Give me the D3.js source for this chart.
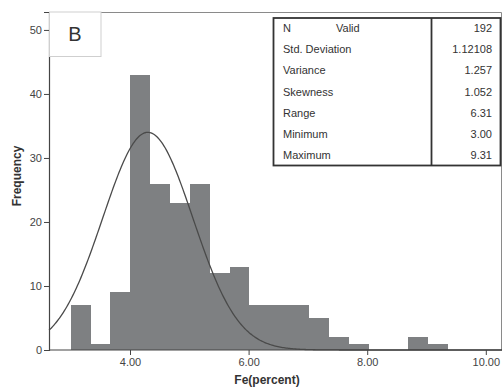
<!DOCTYPE html>
<html>
<head>
<meta charset="utf-8">
<script src="https://cdn.jsdelivr.net/npm/d3@7"></script>
<style>
  body { margin: 0; background: #fff; }
  svg { display: block; font-family: "Liberation Sans", Arial, sans-serif; }
</style>
</head>
<body>
<div id="chart"></div>
<script>
// histogram bins (left edge, Fe percent) and their counts
var binStarts = [3.000, 3.335, 3.670, 4.005, 4.340, 4.675, 5.010, 5.345, 5.680, 6.015,
                 6.350, 6.685, 7.020, 7.355, 7.690, 8.025, 8.360, 8.695, 9.030];
var binCounts = [7, 1, 9, 43, 26, 23, 26, 12, 13, 7, 7, 7, 5, 2, 1, 0, 0, 2, 1];
var binWidth = 0.335;

// normal curve as drawn on the chart
var curveMean = 4.30;
var curveSd = 0.76;
var curvePeak = 34;

var xTicks = [4, 6, 8, 10];
var yTicks = [0, 10, 20, 30, 40, 50];

var statLabels = ["N", "Std. Deviation", "Variance", "Skewness", "Range", "Minimum", "Maximum"];
var statValues = ["192", "1.12108", "1.257", "1.052", "6.31", "3.00", "9.31"];

var W = 502, H = 387;
var svg = d3.select("#chart").append("svg").attr("width", W).attr("height", H);

var x = d3.scaleLinear().domain([2.634, 10.29]).range([49, 503]);
var y = d3.scaleLinear().domain([0, 52.8]).range([350, 12]);

// plot frame (top / right)
svg.append("path")
  .attr("d", "M49,12.5H501.5V350")
  .attr("fill", "none").attr("stroke", "#8a8a8a").attr("stroke-width", 1);

// bars
svg.selectAll("rect.bar")
  .data(binCounts)
  .join("rect")
  .attr("class", "bar")
  .attr("shape-rendering", "crispEdges")
  .attr("x", function(d, i) { return Math.round(x(binStarts[i])); })
  .attr("width", function(d, i) { return Math.round(x(binStarts[i] + binWidth)) - Math.round(x(binStarts[i])); })
  .attr("y", function(d) { return Math.round(y(d)); })
  .attr("height", function(d) { return Math.round(y(0)) - Math.round(y(d)); })
  .attr("fill", "#7e8082");

// normal curve
var curvePts = d3.range(2.634, 10.29, 0.02).map(function(v) {
  var z = (v - curveMean) / curveSd;
  return [v, curvePeak * Math.exp(-0.5 * z * z)];
});
svg.append("path")
  .datum(curvePts)
  .attr("fill", "none")
  .attr("stroke", "#4a4a4a")
  .attr("stroke-width", 1.3)
  .attr("d", d3.line().x(function(d) { return x(d[0]); }).y(function(d) { return y(d[1]); }));

// axes
var yAxis = svg.append("g")
  .attr("transform", "translate(49,0)")
  .call(d3.axisLeft(y).tickValues(yTicks).tickSize(5).tickPadding(2).tickFormat(d3.format("d")));
var xAxis = svg.append("g")
  .attr("transform", "translate(0,350)")
  .call(d3.axisBottom(x).tickValues(xTicks).tickSize(5).tickPadding(3).tickFormat(d3.format(".2f")));
[yAxis, xAxis].forEach(function(a) {
  a.select(".domain").attr("stroke", "#444").attr("stroke-width", 1.2);
  a.selectAll(".tick line").attr("stroke", "#444");
  a.selectAll(".tick text").attr("fill", "#444").style("font-size", "11px");
});
xAxis.select(".domain").attr("d", "M49,0H502");

// axis titles
svg.append("text")
  .attr("x", 267).attr("y", 384)
  .attr("text-anchor", "middle")
  .style("font-size", "12px").style("font-weight", "bold").attr("fill", "#333")
  .text("Fe(percent)");
svg.append("text")
  .attr("transform", "translate(21,176) rotate(-90)")
  .attr("text-anchor", "middle")
  .style("font-size", "12px").style("font-weight", "bold").attr("fill", "#333")
  .text("Frequency");

// panel label box
svg.append("rect")
  .attr("x", 49.5).attr("y", 12).attr("width", 51.5).attr("height", 44.5)
  .attr("fill", "#fff").attr("stroke", "#cfcfcf");
svg.append("text")
  .attr("x", 75).attr("y", 41)
  .attr("text-anchor", "middle")
  .style("font-size", "20px").attr("fill", "#333")
  .text("B");

// statistics table
var tb = svg.append("g");
tb.append("rect")
  .attr("x", 273.5).attr("y", 18).attr("width", 227).attr("height", 147.5)
  .attr("fill", "#fff").attr("stroke", "#333").attr("stroke-width", 1.8);
tb.append("line")
  .attr("x1", 431.5).attr("x2", 431.5).attr("y1", 18).attr("y2", 165.5)
  .attr("stroke", "#333").attr("stroke-width", 1.8);
var rowY = d3.scaleLinear().domain([0, 6]).range([28.3, 155]);
tb.selectAll("text.lab")
  .data(statLabels)
  .join("text")
  .attr("class", "lab")
  .attr("x", 283).attr("y", function(d, i) { return rowY(i); })
  .attr("dy", "0.35em")
  .style("font-size", "11px").attr("fill", "#333")
  .text(function(d) { return d; });
tb.append("text")
  .attr("x", 336).attr("y", rowY(0)).attr("dy", "0.35em")
  .style("font-size", "11px").attr("fill", "#333")
  .text("Valid");
tb.selectAll("text.val")
  .data(statValues)
  .join("text")
  .attr("class", "val")
  .attr("x", 492).attr("y", function(d, i) { return rowY(i); })
  .attr("dy", "0.35em")
  .attr("text-anchor", "end")
  .style("font-size", "11px").attr("fill", "#333")
  .text(function(d) { return d; });
</script>
</body>
</html>
